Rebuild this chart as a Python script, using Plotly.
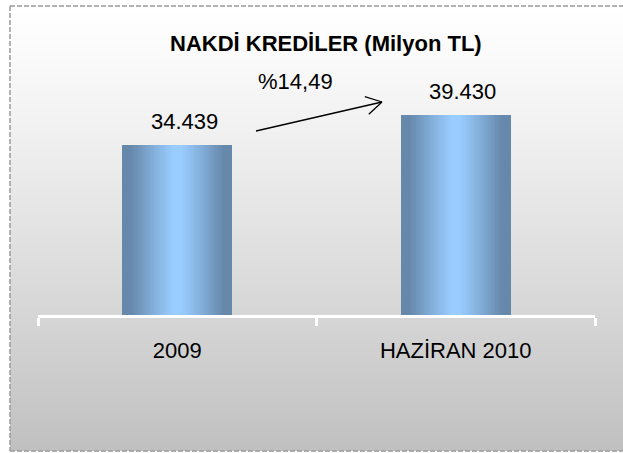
import plotly.graph_objects as go

# ---- data ----
categories = ["2009", "HAZİRAN 2010"]
values = [34439, 39430]
title_text = "NAKDİ KREDİLER (Milyon TL)"

# ---- style constants ----
W, H = 623, 453
FONT = "Liberation Sans, Arial, sans-serif"
DARK = (102, 136, 170)
LIGHT = (153, 204, 255)
BAR_W = 0.395
Y_MIN = 6000
PX_PER_UNIT = 0.00599
PLOT_TOP_PX, PLOT_BOT_PX = 60, 315
PLOT_LEFT_PX, PLOT_RIGHT_PX = 38, 595
Y_MAX = Y_MIN + (PLOT_BOT_PX - PLOT_TOP_PX) / PX_PER_UNIT


def px(x):
    return x / W


def py(y):
    return 1 - y / H


def lerp(a, b, t):
    return tuple(round(a[i] + (b[i] - a[i]) * t) for i in range(3))


fig = go.Figure()

# gradient "cylinder" bars: overlaid layers of decreasing width
N = 36
for i in range(N):
    f = 1 - i / N
    t = min(max((f - 0.08) / 0.78, 0), 1)
    c = lerp(LIGHT, DARK, t ** 1.1)
    fig.add_trace(go.Bar(
        x=categories, y=values, width=BAR_W * f,
        marker=dict(color="rgb(%d,%d,%d)" % c, line=dict(width=0)),
        hoverinfo="skip", showlegend=False,
    ))

shapes = []
# background vertical gradient inside the chart box
top, bot = 6, 451
step = 2
y = top
while y < bot:
    t = (y - top) / (bot - top)
    g = round(255 - 63 * t ** 1.15)
    shapes.append(dict(type="rect", xref="paper", yref="paper", layer="below",
                       x0=px(10), x1=1.0, y0=py(min(y + step + 0.5, bot)), y1=py(y),
                       fillcolor="rgb(%d,%d,%d)" % (g, g, g), line=dict(width=0)))
    y += step
# dashed border: left, top, bottom (right side lies outside the picture)
border = dict(color="#9a9a9a", width=1.5, dash="5px,2px")
for (x0, y0, x1, y1) in [(10, 6, 10, 451), (10, 6, W, 6), (10, 451, W, 451)]:
    shapes.append(dict(type="line", xref="paper", yref="paper", layer="above",
                       x0=px(x0), y0=py(y0), x1=px(x1), y1=py(y1), line=border))
# growth arrow
ax0, ay0, ax1, ay1 = 256, 131, 382, 102
shapes.append(dict(type="line", xref="paper", yref="paper",
                   x0=px(ax0), y0=py(ay0), x1=px(ax1), y1=py(ay1),
                   line=dict(color="black", width=1.3)))
for dx, dy in [(-17.2, -5.3), (-13.2, 12.3)]:
    shapes.append(dict(type="line", xref="paper", yref="paper",
                       x0=px(ax1), y0=py(ay1), x1=px(ax1 + dx), y1=py(ay1 + dy),
                       line=dict(color="black", width=1.3)))

annotations = []
for i, v in enumerate(values):
    annotations.append(dict(x=i, y=v, xref="x", yref="y",
                            text=f"{v:,}".replace(",", "."), showarrow=False,
                            xanchor="center", yanchor="middle", xshift=7, yshift=23,
                            font=dict(size=22, color="black", family=FONT)))
growth = (values[1] - values[0]) / values[0] * 100
annotations.append(dict(x=px(295), y=py(81), xref="paper", yref="paper",
                        text="%" + f"{growth:.2f}".replace(".", ","), showarrow=False,
                        xanchor="center", yanchor="middle",
                        font=dict(size=22, color="black", family=FONT)))
annotations.append(dict(x=px(326), y=py(43), xref="paper", yref="paper",
                        text="<b>" + title_text + "</b>", showarrow=False,
                        xanchor="center", yanchor="middle",
                        font=dict(size=22, color="black", family=FONT)))

fig.update_layout(
    width=W, height=H,
    margin=dict(l=0, r=0, t=0, b=0),
    paper_bgcolor="white", plot_bgcolor="rgba(0,0,0,0)",
    barmode="overlay", bargap=0,
    font=dict(family=FONT, size=22, color="black"),
    shapes=shapes, annotations=annotations,
    xaxis=dict(type="category", range=[-0.5, len(categories) - 0.5],
               domain=[px(PLOT_LEFT_PX), px(PLOT_RIGHT_PX)], showgrid=False, zeroline=False,
               showline=True, linecolor="white", linewidth=3, tickangle=0,
               ticks="outside", tickson="boundaries", ticklen=8, tickwidth=3, tickcolor="white",
               ticklabelstandoff=14,
               tickfont=dict(size=22, color="black", family=FONT), automargin=False,
               fixedrange=True),
    yaxis=dict(domain=[py(PLOT_BOT_PX), py(PLOT_TOP_PX)], range=[Y_MIN, Y_MAX], visible=False,
               showgrid=False, zeroline=False, fixedrange=True),
)

fig.write_html("out.html", config={"displayModeBar": False},
               post_script="document.body.style.margin='0';document.body.style.overflow='hidden';")
